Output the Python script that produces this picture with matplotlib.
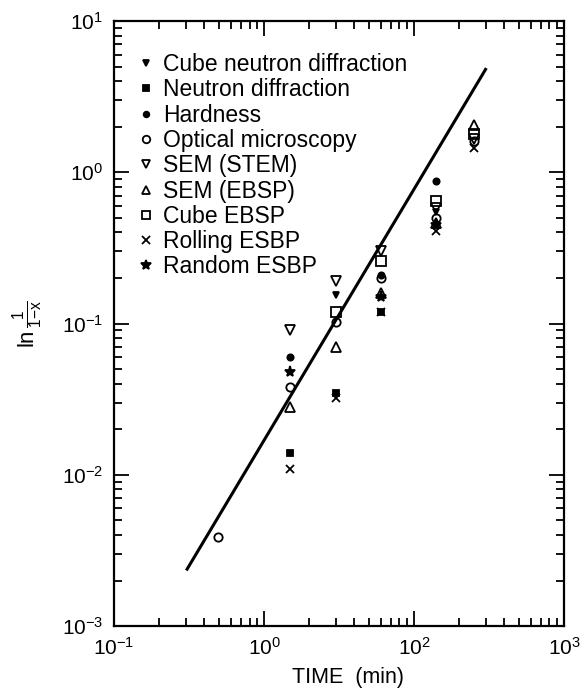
import matplotlib
matplotlib.use("Agg")
import matplotlib.pyplot as plt
import numpy as np

plt.rcParams['font.family'] = ['Liberation Sans', 'DejaVu Sans']
plt.rcParams['mathtext.fontset'] = 'custom'
plt.rcParams['mathtext.rm'] = 'Liberation Sans'
plt.rcParams['mathtext.it'] = 'Liberation Sans:italic'
plt.rcParams['mathtext.default'] = 'regular'

# annealing times (min) and recrystallised fraction ln(1/(1-X)) per technique
cube_nd_t = [3, 14]
cube_nd_y = [0.155, 0.55]
nd_t = [1.5, 3, 6]
nd_y = [0.014, 0.035, 0.12]
hard_t = [1.5, 6, 14]
hard_y = [0.06, 0.21, 0.88]
opt_t = [0.49, 1.5, 3, 6, 14, 25]
opt_y = [0.0039, 0.038, 0.102, 0.2, 0.5, 1.6]
stem_t = [1.5, 3, 6, 14, 25]
stem_y = [0.09, 0.19, 0.3, 0.58, 1.65]
ebsp_t = [1.5, 3, 6, 14, 25]
ebsp_y = [0.028, 0.07, 0.16, 0.46, 2.05]
cube_ebsp_t = [3, 6, 14, 25]
cube_ebsp_y = [0.12, 0.26, 0.65, 1.8]
roll_t = [1.5, 3, 6, 14, 25]
roll_y = [0.011, 0.032, 0.12, 0.41, 1.45]
rand_t = [1.5, 6, 14]
rand_y = [0.048, 0.15, 0.45]

# Avrami type fit  y = k * t^n
fit_n = 1.66
fit_k = 0.0169
fit_t = [0.307, 30.0]

xtick_vals = [0.1, 1, 10, 100]
xtick_text = ['$10^{-1}$', '$10^{0}$', '$10^{2}$', '$10^{3}$']

fig = plt.figure(figsize=(5.82, 6.88), dpi=100)
ax = fig.add_axes([0.196, 0.090, 0.773, 0.8795])

series = [
    (cube_nd_t, cube_nd_y, 'v', 'k', 4.5, 'Cube neutron diffraction'),
    (nd_t, nd_y, 's', 'k', 4.5, 'Neutron diffraction'),
    (hard_t, hard_y, 'o', 'k', 4.5, 'Hardness'),
    (opt_t, opt_y, 'o', 'none', 6, 'Optical microscopy'),
    (stem_t, stem_y, 'v', 'none', 7, 'SEM (STEM)'),
    (ebsp_t, ebsp_y, '^', 'none', 7, 'SEM (EBSP)'),
    (cube_ebsp_t, cube_ebsp_y, 's', 'none', 6.5, 'Cube EBSP'),
    (roll_t, roll_y, 'x', 'k', 6, 'Rolling ESBP'),
    (rand_t, rand_y, '*', 'k', 8, 'Random ESBP'),
]
for t, y, m, fc, ms, lab in series:
    ax.plot(t, y, linestyle='none', marker=m, markerfacecolor=fc,
            markeredgecolor='k', markersize=ms, markeredgewidth=1.3, label=lab)

ft = np.array(fit_t)
ax.plot(ft, fit_k * ft ** fit_n, color='k', lw=2.2)

ax.set_xscale('log')
ax.set_yscale('log')
ax.set_xlim(0.1, 100)
ax.set_ylim(1e-3, 10)
ax.set_xticks(xtick_vals)
ax.set_xticklabels(xtick_text)
ax.tick_params(which='both', direction='in', top=True, right=True,
               labelsize=15, width=1.3)
ax.tick_params(which='major', length=11, pad=8)
ax.tick_params(which='minor', length=6)
for s in ax.spines.values():
    s.set_linewidth(1.6)

ax.set_xlabel('TIME  (min)', fontsize=15.5)
ax.xaxis.set_label_coords(0.52, -0.067)
ax.set_ylabel(r'ln$\,\frac{1}{1\mathrm{-}x}$', fontsize=16, labelpad=12)

ax.legend(loc='upper left', bbox_to_anchor=(0.035, 0.962), frameon=False,
          fontsize=16.5, handlelength=0.6, handletextpad=0.45,
          labelspacing=0.1, borderaxespad=0.0, markerscale=0.9)

fig.savefig('out.png', dpi=100)
